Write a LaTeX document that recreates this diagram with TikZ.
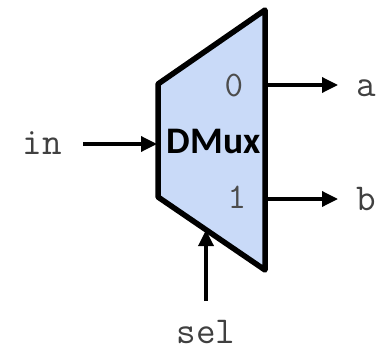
\documentclass[tikz,border=0pt]{standalone}
\usepackage{fontspec}
\usetikzlibrary{arrows.meta}
\setmainfont{Carlito}
\definecolor{muxfill}{HTML}{C9DAF8}
\begin{document}
\begin{tikzpicture}[x=1pt,y=-1pt,
  wire/.style={line width=3.4pt,-{Triangle[length=16pt,width=15pt]},shorten >=-1pt},
  lbl/.style={inner sep=0pt,font=\ttfamily\fontsize{38}{38}\selectfont,text=black!75},
  port/.style={inner sep=0pt,font=\ttfamily\fontsize{36}{36}\selectfont,text=black!70}]
\useasboundingbox (0,0) rectangle (379,348);
\path[fill=muxfill,draw=black,line width=5.5pt,line join=round]
  (158,84) -- (265,10) -- (265,270) -- (158,197) -- cycle;
\node[font=\bfseries\fontsize{37.5}{37.5}\selectfont,inner sep=0pt] (mux) at (213.5,141) {DMux};
\coordinate (inS) at (83,144);
\coordinate (inE) at (156,144);
\coordinate (o0S) at (267,85);
\coordinate (o0E) at (337,85);
\coordinate (o1S) at (267,199);
\coordinate (o1E) at (337,199);
\coordinate (selS) at (206,301);
\coordinate (selE) at (206,231);
\node[lbl] (in) at (42,143) {in};
\node[lbl] (a) at (366,88) {a};
\node[lbl] (b) at (366,199) {b};
\node[lbl] (sel) at (206,331.5) {sel};
\node[port] (p0) at (234,85) {0};
\node[port] (p1) at (237,197) {1};
\draw[wire] (inS) -- (inE);
\draw[wire] (o0S) -- (o0E);
\draw[wire] (o1S) -- (o1E);
\draw[wire] (selS) -- (selE);
\end{tikzpicture}
\end{document}
